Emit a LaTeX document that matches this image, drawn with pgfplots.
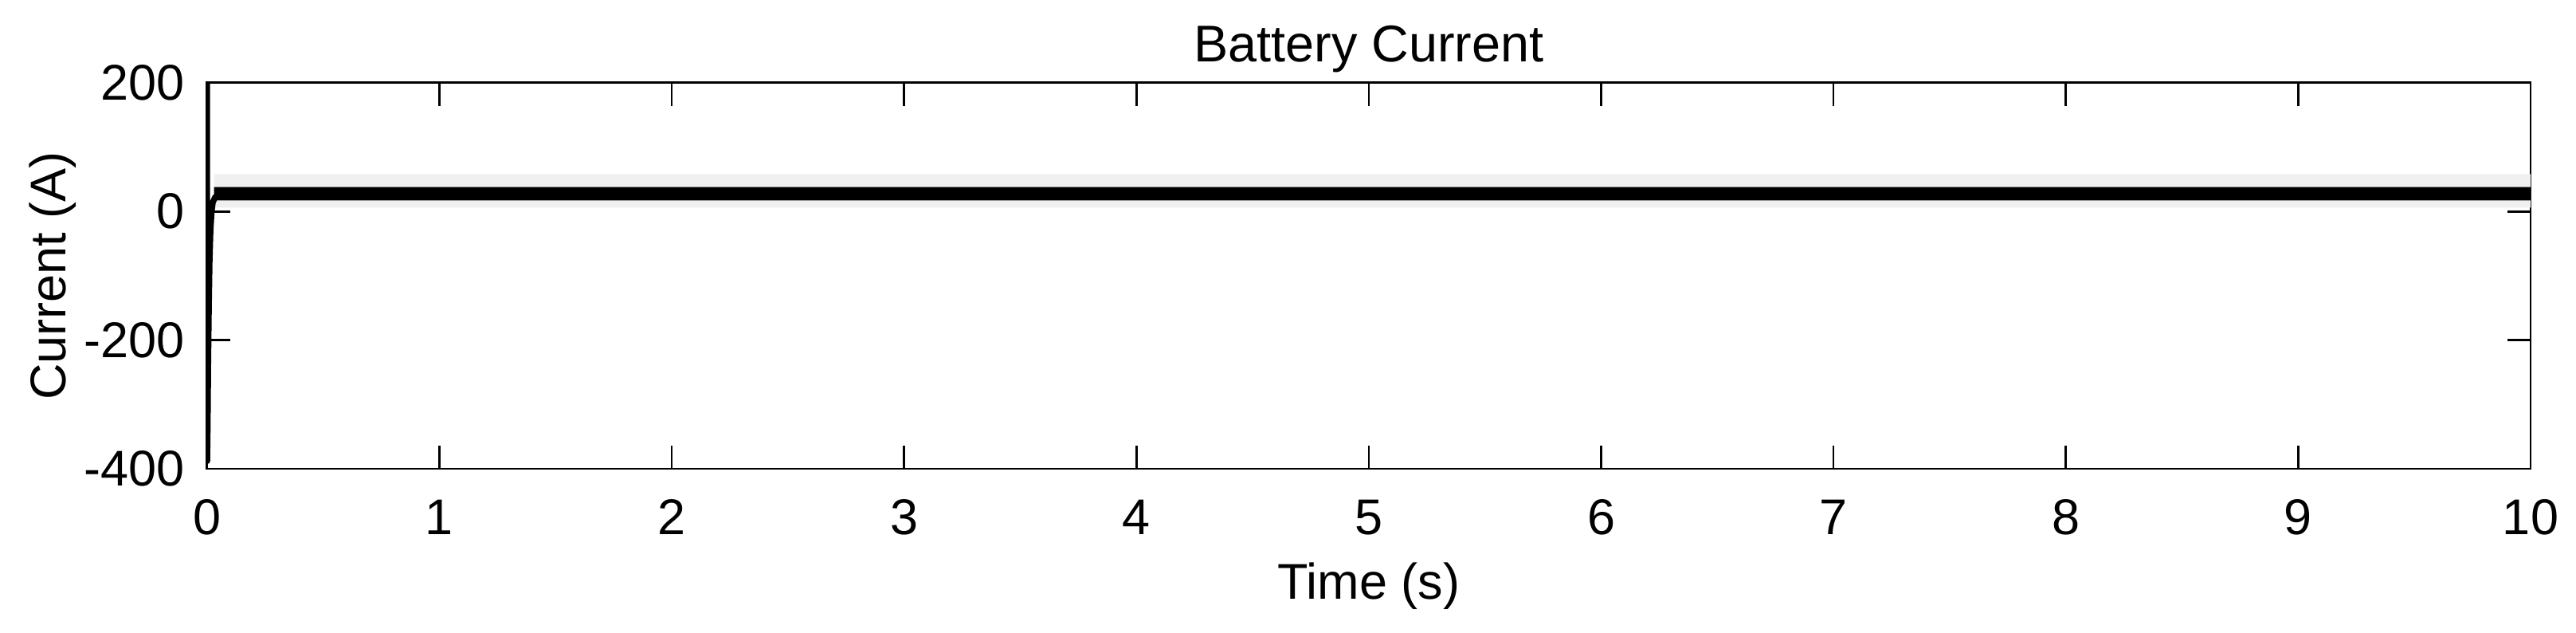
\documentclass[border=0pt]{standalone}
\usepackage{fontspec}
\setmainfont{Liberation Sans}
\usepackage{pgfplots}
\pgfplotsset{compat=1.18}

\begin{document}
\begin{tikzpicture}
	\begin{axis}[
			scale only axis,
			width = 486.1pt,
			height = 80.7pt,
			xmin = 0, xmax = 10,
			ymin = -400, ymax = 200,
			xtick = {0,1,2,3,4,5,6,7,8,9,10},
			ytick = {-400,-200,0,200},
			tick align = inside,
			major tick length = 4.8pt,
			axis line style = {line width = 0.45pt},
			every tick/.style = {black, line width = 0.45pt},
			/pgf/number format/assume math mode = true,
			tick label style = {font = \fontsize{10.5}{12}\selectfont, inner sep = 0pt},
			xticklabel style = {anchor = base, yshift = -13.7pt},
			yticklabel style = {anchor = east, xshift = -4.5pt},
			title = {Battery Current},
			title style = {at = {(0.5,1)}, anchor = base, yshift = -1.7pt, inner sep = 0pt,
				font = \fontsize{10.8}{13}\selectfont},
			xlabel = {Time (s)},
			xlabel style = {at = {(axis description cs:0.5,0)}, anchor = base, yshift = -27.3pt,
				inner sep = 0pt, font = \fontsize{10.5}{12}\selectfont},
			ylabel = {Current (A)},
			ylabel style = {at = {(axis description cs:0,0.5)}, anchor = base,
				yshift = 29.5pt, inner sep = 0pt, font = \fontsize{10.5}{12}\selectfont},
		]
		% faint ripple envelope
		\addplot[fill = black!6, draw = none] coordinates {
			(0.03,6) (10,6) (10,58) (0.03,58)
		} \closedcycle;
		% dense ripple band
		\addplot[fill = black, draw = none] coordinates {
			(0.03,17) (10,17) (10,38) (0.03,38)
		} \closedcycle;
		% start-up transient and mean current
		\addplot[black, line width = 1.25pt, line join = round] coordinates {
			(0,0) (0,215) (0.001,-388) (0.003,-330) (0.005,-240) (0.008,-150)
			(0.011,-80) (0.015,-30) (0.02,0) (0.025,14) (0.035,22) (0.05,26)
			(0.1,27) (10,27)
		};
	\end{axis}
	\pgfresetboundingbox
	\path (-43.3pt,-34.2pt) rectangle (495.6pt,98pt);
\end{tikzpicture}
\end{document}
